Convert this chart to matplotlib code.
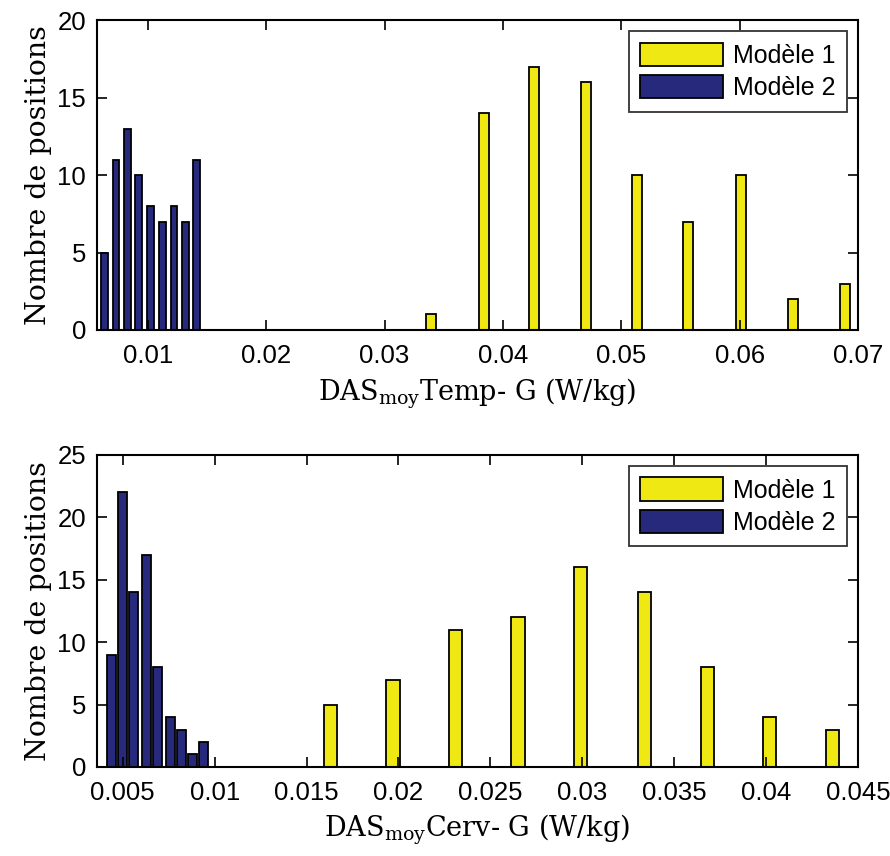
import numpy as np
import matplotlib.pyplot as plt

plt.rcParams['mathtext.fontset'] = 'custom'
plt.rcParams['mathtext.rm'] = 'DejaVu Serif'

# top panel: DAS moy Temp-G
temp_m1_x = [0.0339, 0.0384, 0.0426, 0.0470, 0.0513, 0.0556, 0.0601, 0.0645, 0.0689]
temp_m1_y = [1, 14, 17, 16, 10, 7, 10, 2, 3]
temp_m2_x = [0.0063, 0.0073, 0.0083, 0.0092, 0.0102, 0.0112, 0.0122, 0.0132, 0.0141]
temp_m2_y = [5, 11, 13, 10, 8, 7, 8, 7, 11]

# bottom panel: DAS moy Cerv-G
cerv_m1_x = [0.0163, 0.0197, 0.0231, 0.0265, 0.0299, 0.0334, 0.0368, 0.0402, 0.0436]
cerv_m1_y = [5, 7, 11, 12, 16, 14, 8, 4, 3]
cerv_m2_x = [0.0044, 0.0050, 0.0056, 0.0063, 0.0069, 0.0076, 0.0082, 0.0088, 0.0094]
cerv_m2_y = [9, 22, 14, 17, 8, 4, 3, 1, 2]

yellow = '#F0E812'
navy = '#272A7C'

fig = plt.figure(figsize=(8.9, 8.56), dpi=100)
ax1 = fig.add_axes([0.109, 0.6145, 0.855, 0.362])
ax2 = fig.add_axes([0.109, 0.104, 0.855, 0.3645])

panels = [
    (ax1, temp_m1_x, temp_m1_y, temp_m2_x, temp_m2_y, 0.00085, 0.00058,
     (0.0057, 0.07), np.arange(0.01, 0.0701, 0.01), ['0.01', '0.02', '0.03', '0.04', '0.05', '0.06', '0.07'],
     (0, 20), [0, 5, 10, 15, 20], r'DAS$_{\mathrm{moy}}$Temp- G (W/kg)'),
    (ax2, cerv_m1_x, cerv_m1_y, cerv_m2_x, cerv_m2_y, 0.00072, 0.0005,
     (0.0036, 0.045), np.arange(0.005, 0.0451, 0.005),
     ['0.005', '0.01', '0.015', '0.02', '0.025', '0.03', '0.035', '0.04', '0.045'],
     (0, 25), [0, 5, 10, 15, 20, 25], r'DAS$_{\mathrm{moy}}$Cerv- G (W/kg)'),
]

for ax, x1, y1, x2, y2, w1, w2, xl, xt, xtl, yl, yt, lab in panels:
    ax.bar(x1, y1, width=w1, color=yellow, edgecolor='black', linewidth=1.3, label='Modèle 1')
    ax.bar(x2, y2, width=w2, color=navy, edgecolor='black', linewidth=1.3, label='Modèle 2')
    ax.set_xlim(*xl)
    ax.set_ylim(*yl)
    ax.set_xticks(xt)
    ax.set_xticklabels(xtl)
    ax.set_yticks(yt)
    ax.tick_params(direction='in', top=True, right=True, length=7, width=1.2,
                   labelsize=18.5)
    ax.tick_params(axis='x', pad=10)
    ax.tick_params(axis='y', pad=8)
    for lbl in ax.get_xticklabels() + ax.get_yticklabels():
        lbl.set_family('Liberation Sans')
    for s in ax.spines.values():
        s.set_linewidth(1.5)
    ax.set_ylabel('Nombre de positions', family='DejaVu Serif', fontsize=20.5, labelpad=4)
    ax.set_xlabel(lab, family='DejaVu Serif', fontsize=19.5, labelpad=6)
    leg = ax.legend(loc='upper right', fancybox=False, edgecolor='black',
                    prop={'family': 'Liberation Sans', 'size': 18},
                    handlelength=3.3, handleheight=1.05, borderaxespad=0.45,
                    handletextpad=0.4, labelspacing=0.3, borderpad=0.45)
    leg.get_frame().set_linewidth(1.3)

plt.savefig('out.png', dpi=100)
